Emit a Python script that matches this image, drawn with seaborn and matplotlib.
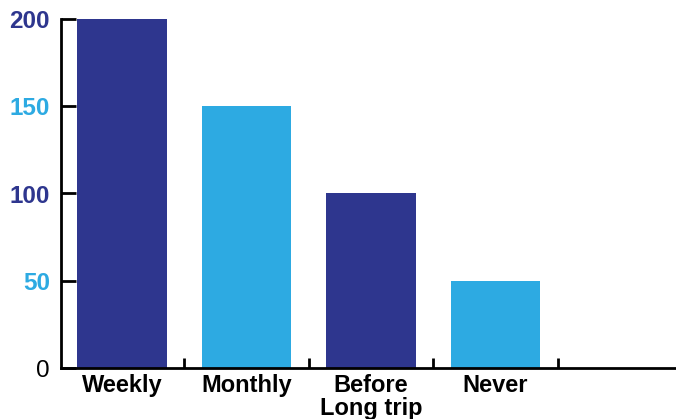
import matplotlib
matplotlib.use("Agg")
import matplotlib.pyplot as plt
from matplotlib.ticker import FixedLocator
import seaborn as sns
import pandas as pd

categories = ["Weekly", "Monthly", "Before\nLong trip", "Never"]
counts = [200, 150, 100, 50]
bar_colors = ["#2E368E", "#2DAAE2", "#2E368E", "#2DAAE2"]
y_ticks = [0, 50, 100, 150, 200]
y_tick_colors = ["#000000", "#2DAAE2", "#2E368E", "#2DAAE2", "#2E368E"]

sns.set_style("white")
plt.rcParams["font.family"] = ["Liberation Sans", "DejaVu Sans"]

df = pd.DataFrame({"category": categories, "count": counts})

fig = plt.figure(figsize=(6.76, 4.19), dpi=100)
ax = fig.add_axes([61 / 676, 51 / 419, 1 - 61 / 676, (368 - 19) / 419])

sns.barplot(data=df, x="category", y="count", hue="category",
            palette=bar_colors, width=0.72, saturation=1, legend=False,
            linewidth=0, ax=ax)

ax.set_xlim(-0.49, 4.45)
ax.set_ylim(0, 200)
ax.set_xlabel("")
ax.set_ylabel("")

for side in ["top", "right"]:
    ax.spines[side].set_visible(False)
for side in ["left", "bottom"]:
    ax.spines[side].set_linewidth(2)
    ax.spines[side].set_color("black")

# y ticks point inward from the spine
ax.set_yticks(y_ticks)
ax.tick_params(axis="y", direction="in", length=11, width=2, pad=8, left=True,
               color="black")
for lbl, col, val in zip(ax.get_yticklabels(), y_tick_colors, y_ticks):
    lbl.set_color(col)
    lbl.set_fontsize(17.5)
    lbl.set_fontweight("normal" if val == 0 else "bold")

# category labels without marks, separator marks between categories
ax.set_xticks(range(len(categories)))
ax.set_xticklabels(categories, fontsize=17, fontweight="bold", linespacing=1.0,
                   color="black")
ax.tick_params(axis="x", which="major", length=0, pad=4)
ax.xaxis.set_minor_locator(FixedLocator([0.5, 1.5, 2.5, 3.5]))
ax.tick_params(axis="x", which="minor", direction="in", length=7, width=2,
               bottom=True, color="black")

fig.savefig("out.png", dpi=100)
